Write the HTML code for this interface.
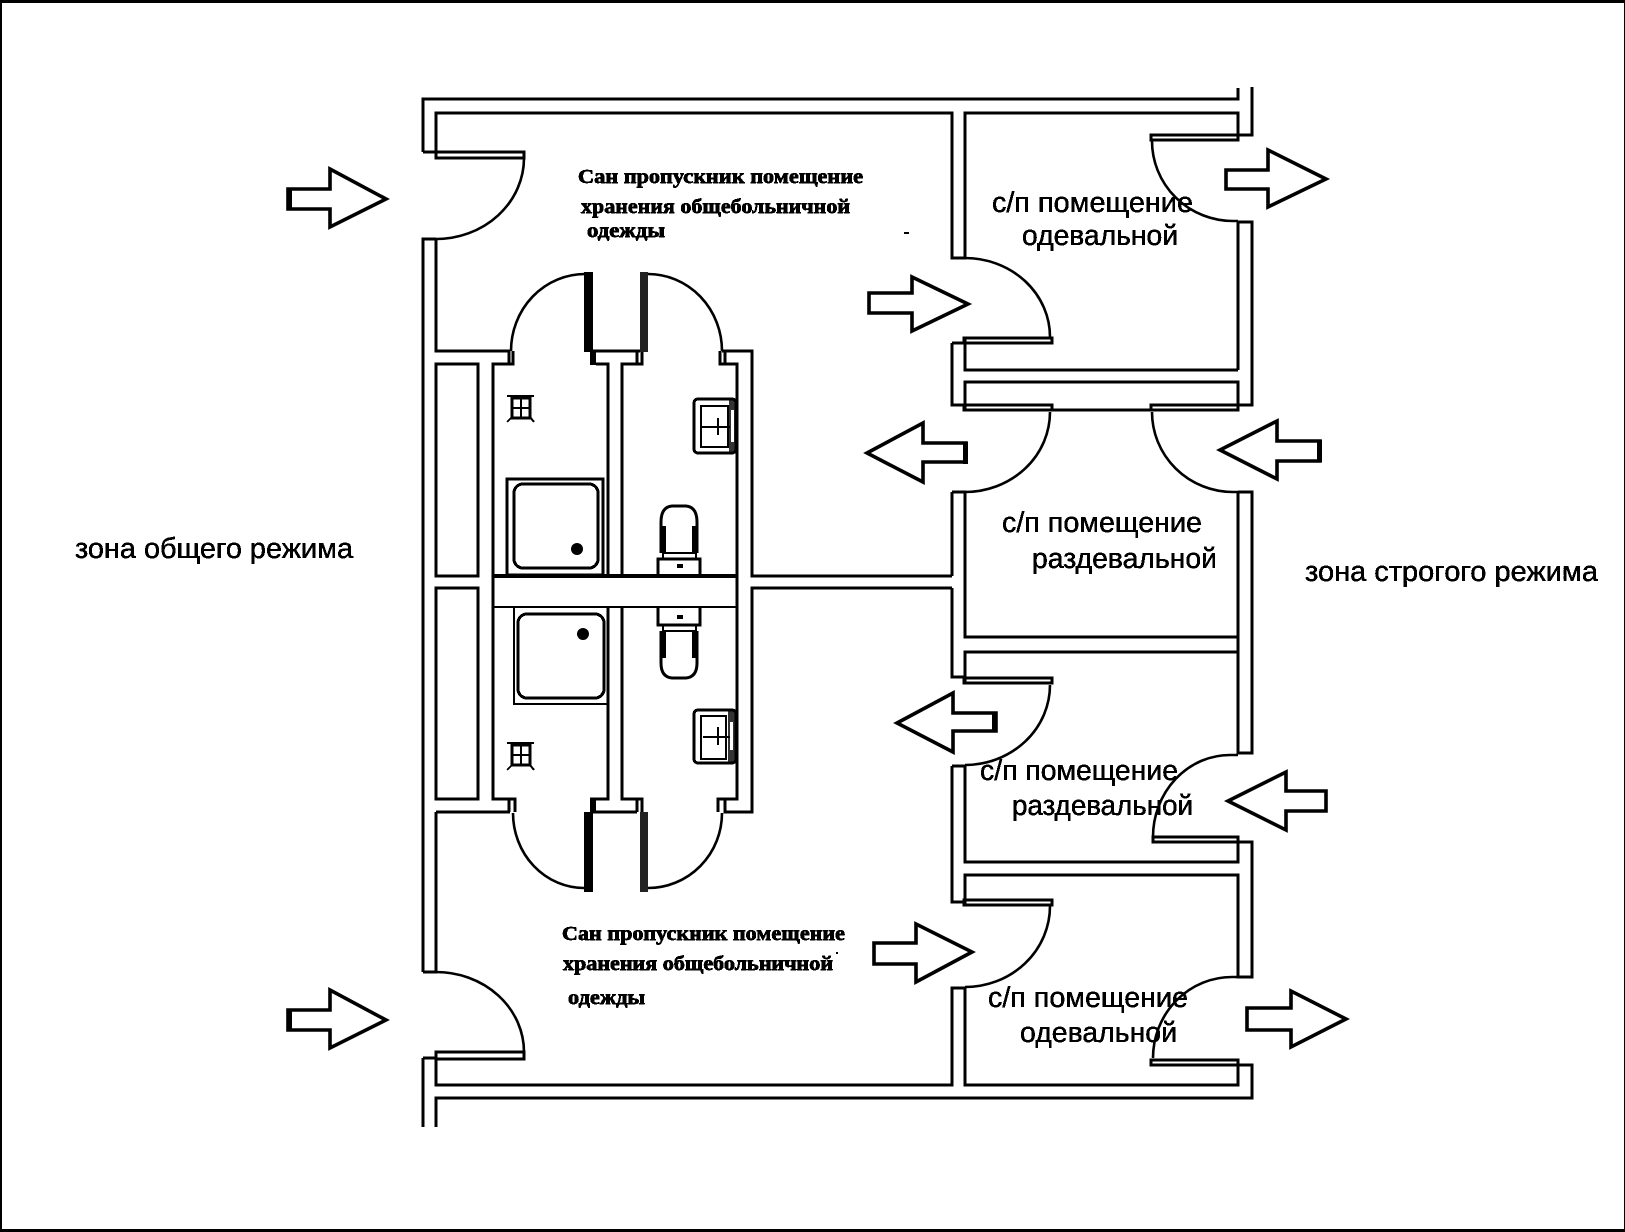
<!DOCTYPE html>
<html lang="ru">
<head>
<meta charset="utf-8">
<title>План санпропускника</title>
<style>
html,body{margin:0;padding:0;background:#fff;}
body{width:1625px;height:1232px;overflow:hidden;}
svg{display:block;}
.w{fill:none;stroke:#000;stroke-width:3;shape-rendering:crispEdges;}
.t{fill:none;stroke:#000;stroke-width:2;shape-rendering:crispEdges;}
.a{fill:none;stroke:#000;stroke-width:2.6;}
.h{fill:#fff;stroke:#000;stroke-width:3.6;stroke-linejoin:miter;}
.k{fill:#000;stroke:none;}
.s{font-family:"Liberation Sans","DejaVu Sans",sans-serif;font-size:29px;fill:#000;stroke:#000;stroke-width:.35;}
.b{font-family:"Liberation Serif","DejaVu Serif",serif;font-weight:bold;font-size:20px;fill:#000;stroke:#000;stroke-width:.6;}
</style>
</head>
<body>
<svg width="1625" height="1232" viewBox="0 0 1625 1232" xmlns="http://www.w3.org/2000/svg">
<defs>
<filter id="bw" x="-5%" y="-20%" width="110%" height="140%" color-interpolation-filters="sRGB">
<feComponentTransfer><feFuncA type="discrete" tableValues="0 1 1"/></feComponentTransfer>
</filter>
</defs>
<rect width="1625" height="1232" fill="#fff"/>
<!-- frame -->
<rect x="0" y="0" width="1625" height="3" class="k"/>
<rect x="0" y="1229" width="1625" height="3" class="k"/>
<rect x="0" y="0" width="2" height="1232" class="k"/>
<rect x="1624" y="0" width="1" height="1232" class="k"/>

<!-- outer walls -->
<path class="w" d="M423 152V99H1238V88"/>
<path class="w" d="M1252 87V135H1238"/>
<path class="w" d="M436 152V113H952V258H965V113H1238V140"/>
<path class="w" d="M423 152H436"/>
<path class="w" d="M436 239H423V972"/>
<path class="w" d="M436 239V351H510"/>
<path class="w" d="M436 812V972H423"/>
<path class="w" d="M423 1058H436"/>
<path class="w" d="M423 1058V1127"/>
<path class="w" d="M436 1059V1085H952V988H965V1085H1238V1062"/>
<path class="w" d="M1238 1065H1252V1098H436V1127"/>

<!-- closets -->
<rect class="w" x="436" y="364" width="42" height="212"/>
<rect class="w" x="436" y="588" width="42" height="211"/>

<!-- sanitary block -->
<path class="w" d="M513 351V364H493V799H515V812"/>
<path class="w" d="M509 351V364"/>
<path class="w" d="M509 799V812"/>
<path class="w" d="M593 351H640"/>
<rect class="k" x="590" y="352" width="6" height="13"/>
<path class="w" d="M596 364H608V576"/>
<path class="w" d="M608 607V799H590"/>
<rect class="k" x="590" y="799" width="6" height="13"/>
<path class="w" d="M642 351V364H622V576"/>
<path class="w" d="M637 351V364"/>
<path class="w" d="M622 607V799H642V812"/>
<path class="w" d="M637 799V812"/>
<path class="w" d="M722 351H752V576H952"/>
<path class="w" d="M720 351V364H725V351"/>
<path class="w" d="M725 364H737V799H718V812"/>
<path class="w" d="M725 799V812H752V588H952"/>
<path class="w" d="M436 812H510"/>
<path class="w" d="M593 812H637"/>
<path class="w" d="M493 576H737" style="stroke-width:4"/>
<path class="t" d="M493 607H737"/>

<!-- door bars -->
<rect class="k" x="584" y="272" width="9" height="80"/>
<rect x="640" y="272" width="8" height="80" fill="#222"/>
<rect class="k" x="584" y="812" width="9" height="80"/>
<rect x="640" y="812" width="8" height="80" fill="#222"/>

<!-- arcs in block -->
<path class="a" d="M511 351A74 77 0 0 1 585 274"/>
<path class="a" d="M648 274A74 77 0 0 1 722 351"/>
<path class="a" d="M513 813A71 75 0 0 0 584 888"/>
<path class="a" d="M722 813A74 75 0 0 1 648 888"/>

<!-- right rooms -->
<path class="w" d="M952 258H965"/>
<path class="w" d="M952 343H965"/>
<path class="w" d="M952 343V405H965"/>
<path class="w" d="M965 338V370H1238"/>
<rect class="w" x="965" y="382" width="273" height="28"/>
<path class="w" d="M1238 222H1252V405H1238"/>
<path class="w" d="M1238 222V370"/>
<path class="w" d="M952 492H965V637H1238"/>
<path class="w" d="M952 492V576"/>
<path class="w" d="M952 588V677H965"/>
<path class="w" d="M1238 652H965V683"/>
<path class="w" d="M1238 492H1252V753H1238V492"/>
<path class="w" d="M952 766H965V862H1238V837"/>
<path class="w" d="M952 766V902H965"/>
<path class="w" d="M965 905V875H1238V977H1252V842H1238"/>
<path class="w" d="M952 988H965"/>

<!-- door leaves -->
<rect class="w" x="436" y="152" width="88" height="6"/>
<rect class="w" x="1151" y="135" width="87" height="5"/>
<rect class="w" x="964" y="338" width="88" height="5"/>
<rect class="w" x="964" y="405" width="88" height="5"/>
<rect class="w" x="1151" y="405" width="87" height="5"/>
<rect class="w" x="964" y="678" width="88" height="5"/>
<rect class="w" x="1153" y="837" width="85" height="5"/>
<rect class="w" x="964" y="900" width="88" height="5"/>
<rect class="w" x="1151" y="1060" width="87" height="5"/>
<rect class="w" x="436" y="1052" width="88" height="7"/>

<!-- door arcs -->
<path class="a" d="M524 158A88 81 0 0 1 436 239"/>
<path class="a" d="M436 972A88 80 0 0 1 524 1052"/>
<path class="a" d="M1152 141A81 80 0 0 0 1233 221H1238"/>
<path class="a" d="M965 258A85 79 0 0 1 1050 337"/>
<path class="a" d="M1050 412A85 80 0 0 1 965 492"/>
<path class="a" d="M1152 412A81 80 0 0 0 1233 492H1238"/>
<path class="a" d="M1050 685A85 80 0 0 1 965 765"/>
<path class="a" d="M1238 755H1230A77 82 0 0 0 1153 837"/>
<path class="a" d="M1050 906A85 81 0 0 1 965 987"/>
<path class="a" d="M1238 977H1232A79 81 0 0 0 1153 1058"/>

<!-- showers -->
<rect class="w" x="507" y="479" width="96" height="96"/>
<rect class="w" x="514" y="484" width="84" height="84" rx="9"/>
<circle class="k" cx="577" cy="549" r="6"/>
<path class="t" d="M514 607V704H608"/>
<rect class="w" x="518" y="614" width="86" height="84" rx="9"/>
<circle class="k" cx="583" cy="634" r="6"/>

<!-- toilets -->
<path class="w" d="M658 576V559H700V576"/>
<path class="t" d="M663 559V553H696V559"/>
<rect class="k" x="677" y="564" width="6" height="4"/>
<path class="a" d="M661 553V522Q661 507 672 506H686Q697 507 697 522V553" style="stroke-width:3"/>
<rect class="k" x="660" y="526" width="6" height="27"/>
<rect class="k" x="692" y="526" width="6" height="27"/>
<path class="w" d="M658 607V625H700V607"/>
<path class="t" d="M663 625V631H696V625"/>
<rect class="k" x="677" y="615" width="6" height="4"/>
<path class="a" d="M661 631V663Q661 677 672 678H686Q697 677 697 663V631" style="stroke-width:3"/>
<rect class="k" x="660" y="631" width="6" height="27"/>
<rect class="k" x="692" y="631" width="6" height="27"/>

<!-- sinks -->
<rect class="w" x="694" y="399" width="42" height="54" rx="4"/>
<rect class="t" x="701" y="406" width="27" height="41"/>
<path class="t" d="M701 427H730M718 418V435"/>
<rect class="k" x="729" y="399" width="7" height="54" opacity=".8"/>
<rect x="731" y="410" width="3" height="32" fill="#fff"/>
<rect class="w" x="694" y="710" width="42" height="53" rx="4"/>
<rect class="t" x="701" y="716" width="25" height="43"/>
<path class="t" d="M703 737H730M718 727V745"/>
<rect class="k" x="728" y="710" width="8" height="53" opacity=".8"/>
<rect x="730" y="722" width="3" height="28" fill="#fff"/>

<!-- drains -->
<rect class="w" x="512" y="398" width="18" height="20"/>
<path class="t" d="M521 398V418M512 408H530"/>
<path class="t" d="M507 396H534M507 422L512 417M534 422L530 417"/>
<rect class="w" x="512" y="745" width="18" height="20"/>
<path class="t" d="M521 745V765M512 755H530"/>
<path class="t" d="M507 743H534M507 770L512 765M534 770L530 765"/>
<rect class="k" x="904" y="232" width="5" height="2"/>
<rect class="k" x="836" y="952" width="2" height="2"/>

<!-- arrows: right-pointing -->
<path class="h" d="M288 189H330V169L386 199L330 227V209H288Z"/>
<path class="h" d="M288 1010H330V990L386 1020L330 1048V1030H288Z"/>
<path class="h" d="M869 293H912V277L968 304L912 331V313H869Z"/>
<path class="h" d="M1226 170H1268V150L1326 179L1268 207V189H1226Z"/>
<path class="h" d="M874 943H916V924L972 952L916 982V964H874Z"/>
<path class="h" d="M1247 1008H1291V991L1346 1019L1291 1047V1030H1247Z"/>
<rect class="k" x="287" y="188" width="5" height="22"/>
<rect class="k" x="287" y="1009" width="5" height="22"/>
<!-- arrows: left-pointing -->
<path class="h" d="M966 443H923V423L867 453L923 482V462H966Z"/>
<path class="h" d="M1320 441H1277V421L1220 450L1277 479V461H1320Z"/>
<path class="h" d="M996 713H953V693L897 723L953 752V731H996Z"/>
<path class="h" d="M1326 791H1286V772L1228 801L1286 830V811H1326Z"/>
<rect class="k" x="963" y="442" width="5" height="22"/>
<rect class="k" x="1317" y="440" width="5" height="22"/>
<rect class="k" x="992" y="712" width="5" height="20"/>

<!-- labels -->
<g filter="url(#bw)">
<text class="s" x="75" y="558" textLength="278" lengthAdjust="spacingAndGlyphs">зона общего режима</text>
<text class="s" x="1305" y="581" textLength="293" lengthAdjust="spacingAndGlyphs">зона строгого режима</text>
<text class="s" x="992" y="212" textLength="201" lengthAdjust="spacingAndGlyphs">с/п помещение</text>
<text class="s" x="1022" y="245" textLength="156" lengthAdjust="spacingAndGlyphs">одевальной</text>
<text class="s" x="1002" y="532" textLength="200" lengthAdjust="spacingAndGlyphs">с/п помещение</text>
<text class="s" x="1032" y="568" textLength="185" lengthAdjust="spacingAndGlyphs">раздевальной</text>
<text class="s" x="980" y="780" textLength="198" lengthAdjust="spacingAndGlyphs">с/п помещение</text>
<text class="s" x="1012" y="815" textLength="181" lengthAdjust="spacingAndGlyphs">раздевальной</text>
<text class="s" x="988" y="1007" textLength="200" lengthAdjust="spacingAndGlyphs">с/п помещение</text>
<text class="s" x="1020" y="1042" textLength="157" lengthAdjust="spacingAndGlyphs">одевальной</text>
<text class="b" x="578" y="183" textLength="285" lengthAdjust="spacingAndGlyphs">Сан пропускник  помещение</text>
<text class="b" x="581" y="213" textLength="269" lengthAdjust="spacingAndGlyphs">хранения общебольничной</text>
<text class="b" x="587" y="237" textLength="78" lengthAdjust="spacingAndGlyphs">одежды</text>
<text class="b" x="562" y="940" textLength="283" lengthAdjust="spacingAndGlyphs">Сан пропускник  помещение</text>
<text class="b" x="563" y="970" textLength="270" lengthAdjust="spacingAndGlyphs">хранения общебольничной</text>
<text class="b" x="568" y="1004" textLength="77" lengthAdjust="spacingAndGlyphs">одежды</text>
</g>
</svg>
</body>
</html>
